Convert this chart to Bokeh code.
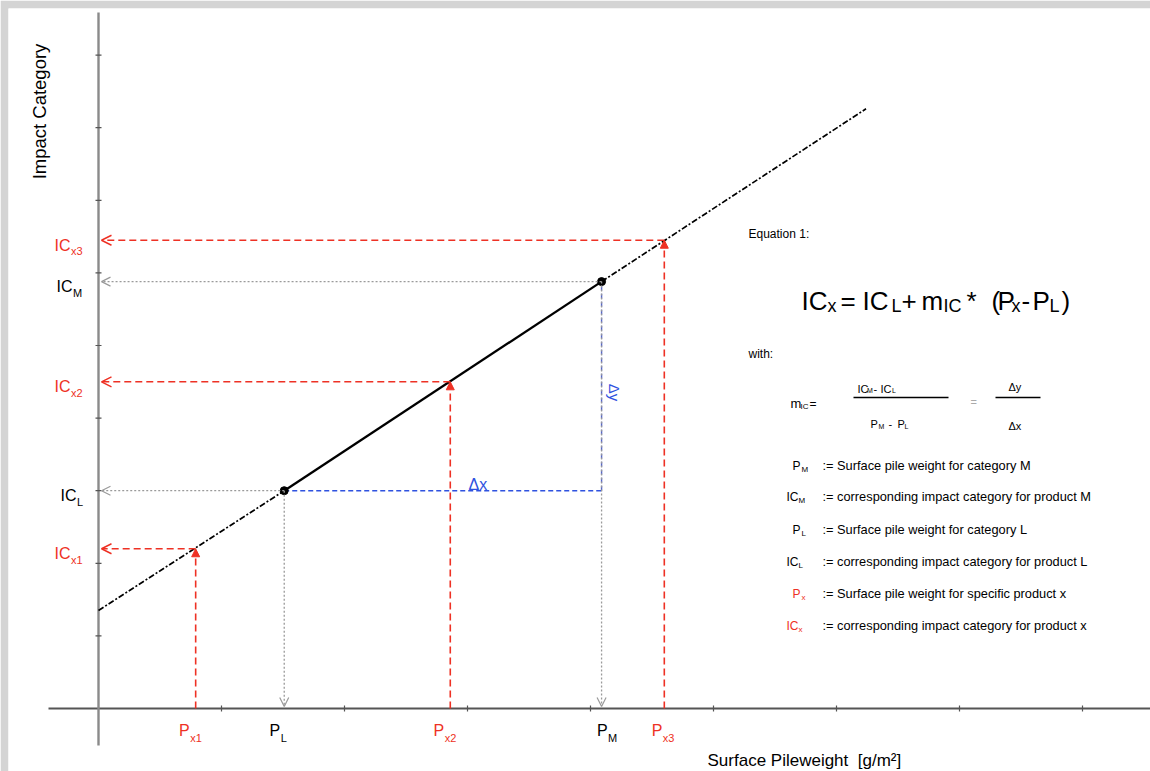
from math import pi
from bokeh.plotting import figure
from bokeh.models import Range1d, Label, Arrow, OpenHead, NormalHead
from bokeh.embed import file_html
from bokeh.resources import INLINE

# ---------------- data ----------------
x_ticks = [1, 2, 3, 4, 5, 6, 7, 8]
y_ticks = [1, 2, 3, 4, 5, 6, 7, 8, 9]
ref_names = ["L", "M"]
p_ref = [1.51, 4.09]        # P_L, P_M
ic_ref = [3.00, 5.88]       # IC_L, IC_M
x_names = ["x1", "x2", "x3"]
p_x = [0.79, 2.86, 4.60]    # P_x1..P_x3
ic_x = [2.20, 4.50, 6.45]   # IC_x1..IC_x3
line_x = [0.0, 6.24]        # ends of the regression line
line_y = [1.35, 8.26]
def_symbols = [("P", "M", "black"), ("IC", "M", "black"), ("P", "L", "black"),
               ("IC", "L", "black"), ("P", "x", "red"), ("IC", "x", "red")]
def_texts = [":= Surface pile weight for category M",
             ":= corresponding impact category for product M",
             ":= Surface pile weight for category L",
             ":= corresponding impact category for product L",
             ":= Surface pile weight for specific product x",
             ":= corresponding impact category for product x"]

# ---------------- geometry / styles ----------------
W, H = 1150, 771
FL, FT = 8, 8               # gray frame border (left, top)
SX, SY = 123.0, 72.6        # pixels per data unit
X0, Y0 = 98.0, 708.0        # picture pixel of the data origin
FONT = "Liberation Sans"
RED = "#ee3124"
BLUE = "#2f52e0"
GRAY = "#9a9a9a"


def X(px):
    return (px - X0) / SX


def Y(py):
    return (Y0 - py) / SY


p = figure(width=W, height=H, x_range=Range1d(X(FL), X(W)), y_range=Range1d(Y(H), Y(FT)),
           output_backend="svg", toolbar_location=None,
           min_border_left=FL, min_border_top=FT, min_border_right=0, min_border_bottom=0,
           x_axis_type=None, y_axis_type=None, outline_line_color=None)
p.xgrid.visible = False
p.ygrid.visible = False
p.background_fill_color = "white"
p.border_fill_color = "#d4d4d4"


def T(s, x, y, size, color="black", align="left", baseline="alphabetic", angle=0.0):
    p.add_layout(Label(x=x, y=y, text=s, text_font=FONT, text_font_size=f"{size}px",
                       text_color=color, text_align=align, text_baseline=baseline, angle=angle))


def TP(s, px, py, size, color="black", align="left", baseline="alphabetic", angle=0.0):
    T(s, X(px), Y(py), size, color, align, baseline, angle)


def ms(main, sub, xb, yb, color, msize=16, ssize=11, drop_px=6):
    T(main, xb, yb, msize, color, align="right")
    T(sub, xb + 0.5 / SX, yb - drop_px / SY, ssize, color, align="left")


# ---------------- axes ----------------
p.segment(x0=[X(48)], y0=[0], x1=[X(W)], y1=[0], line_color="#555555", line_width=2)
p.segment(x0=[0], y0=[Y(745)], x1=[0], y1=[Y(12)], line_color="#8a8a8a", line_width=2.4)
p.segment(x0=x_ticks, y0=[-3 / SY] * len(x_ticks), x1=x_ticks, y1=[3 / SY] * len(x_ticks),
          line_color="#555555", line_width=1.2)
p.segment(x0=[-3 / SX] * len(y_ticks), y0=y_ticks, x1=[3 / SX] * len(y_ticks), y1=y_ticks,
          line_color="#555555", line_width=1.2)

# ---------------- gray dotted projections ----------------
for pv, iv in zip(p_ref, ic_ref):
    p.add_layout(Arrow(x_start=pv, y_start=iv, x_end=3 / SX, y_end=iv,
                       line_color=GRAY, line_width=1.3, line_dash="2 2",
                       end=OpenHead(size=9, line_color=GRAY, line_width=1.2)))
    p.add_layout(Arrow(x_start=pv, y_start=iv, x_end=pv, y_end=2 / SY,
                       line_color=GRAY, line_width=1.3, line_dash="2 2",
                       end=OpenHead(size=9, line_color=GRAY, line_width=1.2)))

# ---------------- blue delta lines ----------------
p.line([p_ref[0], p_ref[1]], [ic_ref[0], ic_ref[0]], line_color=BLUE, line_width=1.6, line_dash="5 3")
p.line([p_ref[1], p_ref[1]], [ic_ref[0], ic_ref[1]], line_color="#5566cc", line_width=1.4, line_dash="5 3")

# ---------------- red projections ----------------
for pv, iv in zip(p_x, ic_x):
    p.add_layout(Arrow(x_start=pv, y_start=0, x_end=pv, y_end=iv,
                       line_color=RED, line_width=1.6, line_dash="7 4",
                       end=NormalHead(size=8, fill_color=RED, line_color=RED, line_width=1)))
    p.add_layout(Arrow(x_start=pv, y_start=iv, x_end=3 / SX, y_end=iv,
                       line_color=RED, line_width=1.6, line_dash="7 4",
                       end=OpenHead(size=10, line_color=RED, line_width=1.5)))

# ---------------- regression line ----------------
p.line([line_x[0], p_ref[0]], [line_y[0], ic_ref[0]], line_color="black", line_width=1.7, line_dash="6 2 2 2")
p.line(p_ref, ic_ref, line_color="black", line_width=2.3)
p.line([p_ref[1], line_x[1]], [ic_ref[1], line_y[1]], line_color="black", line_width=1.7, line_dash="6 2 2 2")
p.scatter(p_ref, ic_ref, size=8, fill_color="black", line_color="black", line_width=1, fill_alpha=1.0)

# ---------------- tick labels ----------------
sub_w = {"x1": 12, "x2": 12, "x3": 12, "M": 10, "L": 6}
for name, val in zip(ref_names, ic_ref):
    ms("IC", name, X(82 - sub_w[name]), val - 5 / SY, "black")
for name, val in zip(x_names, ic_x):
    ms("IC", name, X(82 - sub_w[name]), val - 5 / SY, RED)

x_nudge = {"L": -4, "M": 6, "x1": -6, "x2": -6, "x3": -2}
for name, val in zip(ref_names, p_ref):
    ms("P", name, val + x_nudge[name] / SX, Y(730), "black", drop_px=7)
for name, val in zip(x_names, p_x):
    ms("P", name, val + x_nudge[name] / SX, Y(730), RED, drop_px=7)

# ---------------- axis titles ----------------
TP("Impact Category", 39, 111, 18.5, angle=pi / 2, align="center", baseline="middle")
TP("Surface Pileweight \u00a0[g/m²]", 707, 760, 17)

# ---------------- delta labels ----------------
T("Δx", X(468), ic_ref[0] + 6 / SY, 16, BLUE)
T("Δy", p_ref[1] + 13 / SX, Y(392), 15, BLUE, align="center", baseline="middle", angle=-pi / 2)

# ---------------- equation block ----------------
TP("Equation 1:", 748, 233, 12)
big = [("IC", 801, 0), ("x", 827, 1), ("=", 840, 0), ("IC", 862, 0), ("L", 891, 1),
       ("+", 901, 0), ("m", 921, 0), ("IC", 943, 1), ("*", 966, 0), ("(", 991, 0),
       ("P", 997, 0), ("x", 1011, 1), ("-", 1021, 0), ("P", 1032, 0), ("L", 1049, 1), (")", 1061, 0)]
for s, px, is_sub in big:
    if is_sub:
        TP(s, px, 305, 18)
    else:
        TP(s, px, 300, 26)

TP("with:", 748, 353, 12)
TP("m", 790, 403, 13)
TP("IC", 800, 406, 8)
TP("=", 809, 403, 12)
frac_num = [("IC", 857, 0), ("M", 866.5, 1), ("-", 873, 0), ("IC", 880, 0), ("L", 891.5, 1)]
for s, px, is_sub in frac_num:
    TP(s, px, 390 if is_sub else 388, 7 if is_sub else 11)
frac_den = [("P", 870, 0), ("M", 878, 1), ("-", 888, 0), ("P", 897, 0), ("L", 904, 1)]
for s, px, is_sub in frac_den:
    TP(s, px, 426 if is_sub else 423, 7 if is_sub else 11)
p.segment(x0=[X(853), X(995)], y0=[Y(397), Y(397)], x1=[X(948), X(1040)], y1=[Y(397), Y(397)],
          line_color="black", line_width=1.5)
TP("=", 970, 401, 11, "#aaaaaa")
TP("Δy", 1008, 386, 11)
TP("Δx", 1008, 425, 11)

def_base = [465, 496, 529, 561, 593, 625]
for (sym, sub, col), txt, by in zip(def_symbols, def_texts, def_base):
    c = RED if col == "red" else "black"
    if sym == "P":
        TP("P", 792, by, 12, c)
        TP(sub, 801, by + 4, 8, c)
    else:
        TP("IC", 786, by, 12, c)
        TP(sub, 798, by + 4, 8, c)
    TP(txt, 822, by, 12.8)

open("out.html", "w").write(file_html(p, INLINE))
